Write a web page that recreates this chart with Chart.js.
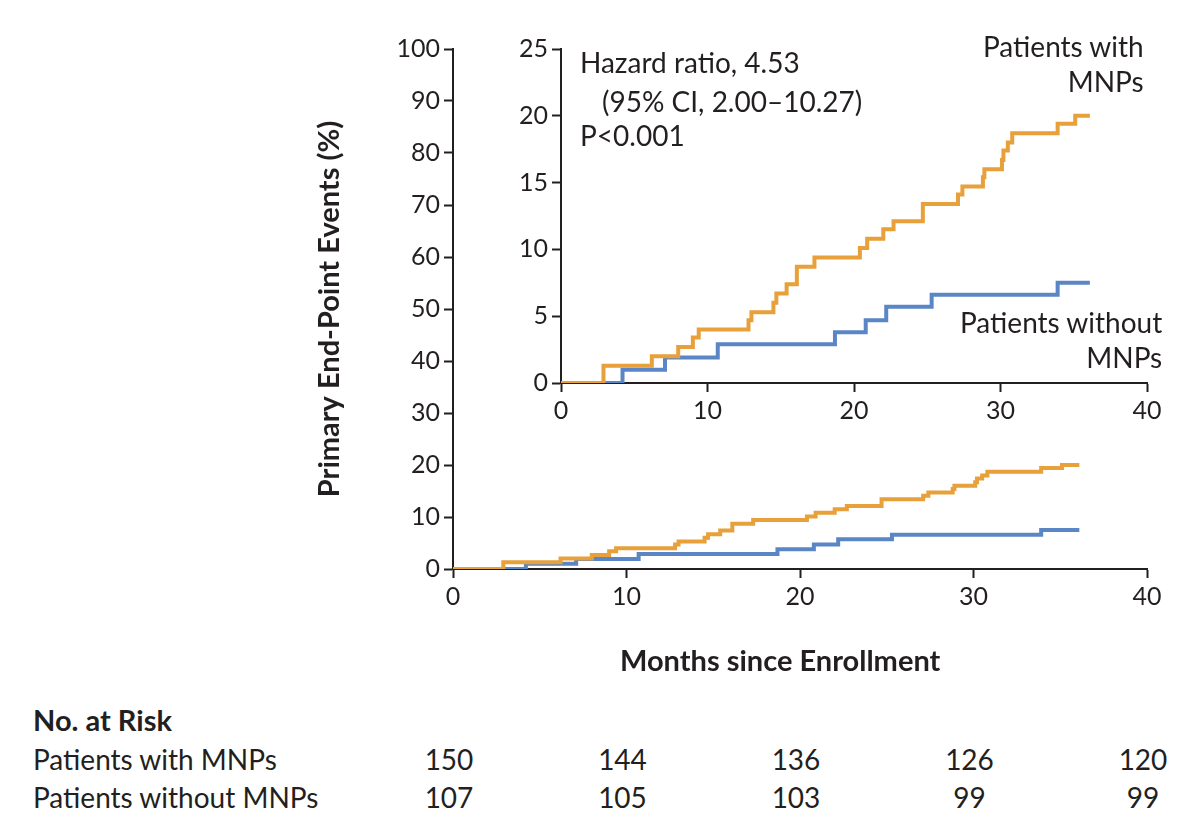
<!DOCTYPE html>
<html><head><meta charset="utf-8">
<script src="https://cdn.jsdelivr.net/npm/chart.js@4"></script>
<style>
body{margin:0;width:1200px;height:840px;background:#fff;font-family:Lato,"Open Sans",sans-serif;color:#231f20;position:relative;overflow:hidden}
.abs{position:absolute;white-space:nowrap}
canvas{position:absolute}
.t{font-size:28px}
.c{transform:translateX(-50%)}
</style></head><body>
<div class="abs" style="left:300px;top:30px;width:880px;height:660px"><canvas id="main"></canvas></div>
<div class="abs" style="left:480px;top:30px;width:700px;height:410px"><canvas id="inset"></canvas></div>
<div class="abs t" style="left:580px;top:45px">Hazard ratio, 4.53</div>
<div class="abs t" style="left:602px;top:84px">(95% CI, 2.00–10.27)</div>
<div class="abs t" style="left:580px;top:118px">P&lt;0.001</div>
<div class="abs t" style="left:983px;top:29px;text-align:right;line-height:35px">Patients with<br><span>MNPs</span></div>
<div class="abs t" style="left:960px;top:305px;text-align:right;line-height:35px">Patients without<br><span>MNPs</span></div>
<div class="abs" style="left:620px;top:642px;font-size:29px;font-weight:bold">Months since Enrollment</div>
<div class="abs" style="left:33px;top:702px;font-size:29px;font-weight:bold">No. at Risk</div>
<div id="risk"></div>
<script>
const withX=[0,2.9,6.2,8.0,9.0,9.4,12.8,13.0,14.5,14.7,15.4,16.1,17.3,20.4,20.9,22.0,22.7,24.7,27.1,27.4,28.8,28.9,30.1,30.2,30.5,30.8,33.9,35.1,36.1];
const withY=[0,1.3,2.0,2.7,3.4,4.0,4.7,5.3,6.0,6.7,7.4,8.7,9.4,10.1,10.8,11.5,12.1,13.4,14.1,14.7,15.4,16.0,16.7,17.4,18.0,18.7,19.4,20.0,20.0];
const withoutX=[0,4.2,7.1,10.7,18.7,20.8,22.2,25.3,33.9,36.1];
const withoutY=[0,1.0,1.9,2.9,3.8,4.7,5.7,6.6,7.5,7.5];
const riskMonths=[0,10,20,30,40];
const riskWith=[150,144,136,126,120];
const riskWithout=[107,105,103,99,99];
const riskLabels=["Patients with MNPs","Patients without MNPs"];

const ORANGE="#e8a03a", BLUE="#5b86c5", INK="#231f20";
const pts=(xs,ys)=>xs.map((x,i)=>({x,y:ys[i]}));
function ds(){return[
 {data:pts(withX,withY),borderColor:ORANGE,borderWidth:4,stepped:'before',pointRadius:0,fill:false},
 {data:pts(withoutX,withoutY),borderColor:BLUE,borderWidth:4,stepped:'before',pointRadius:0,fill:false}];}
function axis(min,max,step,w,h,extra){
 return Object.assign({type:'linear',min,max,
  ticks:{stepSize:step,color:INK,font:{family:'Lato',size:25},padding:4},
  grid:{display:true,drawOnChartArea:false,drawTicks:true,tickLength:9,tickColor:INK,tickWidth:2},
  border:{color:INK,width:2},
  afterFit:s=>{if(w!=null)s.width=w;if(h!=null)s.height=h;}},extra||{});
}
const base={responsive:true,maintainAspectRatio:false,animation:false,
 plugins:{legend:{display:false},tooltip:{enabled:false}}};
new Chart(document.getElementById('main'),{type:'line',data:{datasets:ds()},
 options:Object.assign({},base,{layout:{padding:{top:16,right:33,left:0,bottom:0}},
  scales:{x:axis(0,40,10,null,121),
   y:axis(0,100,10,153,null,{title:{display:true,text:'Primary End-Point Events (%)',color:INK,font:{family:'Lato',size:29,weight:'bold'},padding:{top:12,bottom:0}}})}})});
new Chart(document.getElementById('inset'),{type:'line',data:{datasets:ds()},
 options:Object.assign({},base,{layout:{padding:{top:15,right:33,left:0,bottom:0}},
  scales:{x:axis(0,40,10,null,57),y:axis(0,25,5,81,null)}})});

const xpx=m=>453+(1147-453)*m/40;
let html='';
[riskWith,riskWithout].forEach((row,r)=>{
 const top=742+r*38;
 html+=`<div class="abs" style="left:33px;top:${top}px;font-size:28px">${riskLabels[r]}</div>`;
 row.forEach((v,i)=>{html+=`<div class="abs c" style="left:${xpx(riskMonths[i])-4}px;top:${top}px;font-size:28px">${v}</div>`;});
});
document.getElementById('risk').innerHTML=html;
</script></body></html>
